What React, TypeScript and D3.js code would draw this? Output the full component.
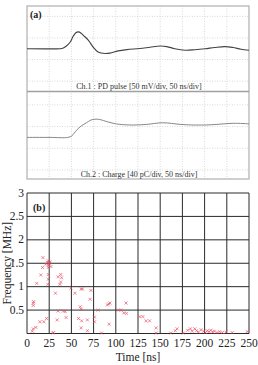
import React from "react";
import * as d3 from "d3";

// ---- Panel (a) waveforms ----
const ch1Time = [0, 52, 79, 88, 97, 104, 110, 115.5, 122, 128, 138, 149, 160, 176, 187, 205, 225, 254, 277, 300, 315, 333, 356, 378, 401, 423, 446, 464, 482, 500];
const ch1Volt = [0, -0.2, 0.5, 5.8, 15, 29, 37, 39, 36, 30, 20, 4, -7.5, -11, -10, -5, -2, 0.5, 3.5, 6.3, 5, 0, -3.5, -2.3, 0, 3, 5, 2.8, -1.2, -3.5];
const ch2Time = [0, 52, 92, 101, 112, 122, 134, 144, 153, 164, 180, 194, 209, 239, 270, 306, 345, 374, 401, 428, 464, 500];
const ch2Charge = [0, 0, 0, 3, 13.6, 21, 27, 32, 33.5, 33, 29, 26, 24, 22.8, 24, 27, 24, 22.8, 22.8, 24, 26, 25];
const timeGridA = [50, 100, 150, 200, 250, 300, 350, 400, 450];
const ch1Grid = [-75, -25, 25, 75];
const ch2Grid = [-60, -20, 20, 60];
const ch1Label = "Ch.1 : PD pulse [50 mV/div, 50 ns/div]";
const ch2Label = "Ch.2 : Charge [40 pC/div, 50 ns/div]";

// ---- Panel (b) scatter ----
const scatterTime = [18, 24, 23, 25, 21, 26, 24, 17.5, 24, 27, 15.5, 24, 35, 38, 39, 11, 24, 23.5, 37, 38, 32, 49.5, 54, 61, 62.5, 72, 71, 7, 7, 7.5, 60, 61, 35, 41, 43, 80, 90.5, 92, 93.5, 111.5, 103, 106, 109, 112, 14.5, 19, 22, 34, 44, 58, 61.5, 61, 68, 76, 76, 68, 84, 29, 30, 92.5, 6, 7, 10, 127, 130.5, 134, 138, 145.5, 145.5, 162, 167, 169, 176, 181, 184, 186, 189, 191, 193, 196, 199, 201, 203, 205, 207, 209, 211, 214, 217, 220, 224, 231, 248];
const scatterFreq = [1.62, 1.55, 1.52, 1.5, 1.48, 1.53, 1.46, 1.41, 1.41, 1.43, 1.25, 1.26, 1.21, 1.26, 1.19, 1.07, 1.16, 1.05, 1.05, 1.1, 0.86, 0.97, 0.86, 0.95, 0.95, 0.92, 0.73, 0.65, 0.6, 0.68, 0.57, 0.52, 0.48, 0.48, 0.47, 0.5, 0.61, 0.63, 0.65, 0.65, 0.5, 0.5, 0.44, 0.43, 0.25, 0.25, 0.32, 0.29, 0.34, 0.32, 0.27, 0.12, 0.29, 0.25, 0.35, 0.06, 0.01, 0.01, 0.02, 0.2, 0.05, 0.1, 0.13, 0.36, 0.36, 0.27, 0.27, 0.12, 0.01, 0.01, 0.06, 0.1, 0.01, 0.07, 0.1, 0.05, 0.1, 0.06, 0.03, 0.08, 0.05, 0.02, 0.06, 0.04, 0.07, 0.03, 0.05, 0.02, 0.04, 0.02, 0.03, 0.02, 0.04];
const xTicks = [0, 25, 50, 75, 100, 125, 150, 175, 200, 225, 250];
const yTicks = [0.5, 1, 1.5, 2, 2.5, 3];

const SERIF = "'Liberation Serif', 'Times New Roman', Times, serif";

export default function App() {
  const W = 258, H = 365;
  const aL = 27, aR = 249, aTop = 6, aMid = 91.5, aBot = 179;

  const xA = d3.scaleLinear().domain([0, 500]).range([aL, aR]);
  // ch1: 0 mV at panel centre, 21.5 px per 50 mV
  const y1 = d3.scaleLinear().domain([-99, 99]).range([aMid, aTop]);
  // ch2: 0 pC at y=137.4, 21.7 px per 40 pC
  const y2 = d3.scaleLinear().domain([0, 40]).range([137.4, 137.4 - 21.7]);

  const line1 = d3.line<number>().x((_, i) => xA(ch1Time[i])).y((v) => y1(v)).curve(d3.curveCatmullRom);
  const line2 = d3.line<number>().x((_, i) => xA(ch2Time[i])).y((v) => y2(v)).curve(d3.curveCatmullRom);

  const bL = 27, bR = 249, bTop = 193, bBot = 333.5;
  const xB = d3.scaleLinear().domain([0, 250]).range([bL, bR]);
  const yB = d3.scaleLinear().domain([0, 3]).range([bBot, bTop]);

  const gridCol = "#cfcfcf";
  const s = 1.5;

  return (
    <div style={{ position: "absolute", left: 0, top: 0 }}>
      <svg width={W} height={H} style={{ display: "block", background: "#fff" }}>
        {/* Panel (a) */}
        <g>
          {timeGridA.map((t) => (
            <line key={"va" + t} x1={xA(t)} x2={xA(t)} y1={aTop} y2={aBot} stroke={gridCol} strokeWidth={0.8} strokeDasharray="1,1.5" />
          ))}
          {ch1Grid.map((v) => (
            <line key={"h1" + v} x1={aL} x2={aR} y1={y1(v)} y2={y1(v)} stroke={gridCol} strokeWidth={0.8} strokeDasharray="1,1.5" />
          ))}
          {ch2Grid.map((v) => (
            <line key={"h2" + v} x1={aL} x2={aR} y1={y2(v)} y2={y2(v)} stroke={gridCol} strokeWidth={0.8} strokeDasharray="1,1.5" />
          ))}
          <rect x={aL} y={aTop} width={aR - aL} height={aBot - aTop} fill="none" stroke="#b0b0b0" strokeWidth={1.2} />
          <line x1={aL} x2={aR} y1={aMid} y2={aMid} stroke="#a0a0a0" strokeWidth={1.5} />
          <path d={line1(ch1Volt) || ""} fill="none" stroke="#444" strokeWidth={1.15} />
          <path d={line2(ch2Charge) || ""} fill="none" stroke="#7a7a7a" strokeWidth={0.9} />
          <text x={30} y={18} fontFamily={SERIF} fontSize={10} fontWeight="bold" fill="#222">(a)</text>
          <text x={(aL + aR) / 2 + 1} y={89} textAnchor="middle" fontFamily={SERIF} fontSize={8} fill="#333">{ch1Label}</text>
          <text x={(aL + aR) / 2 + 1} y={176.5} textAnchor="middle" fontFamily={SERIF} fontSize={8} fill="#333">{ch2Label}</text>
        </g>

        {/* Panel (b) */}
        <g>
          {xTicks.map((t) => (
            <line key={"vb" + t} x1={xB(t)} x2={xB(t)} y1={bTop} y2={bBot} stroke="#2a2a2a" strokeWidth={1} />
          ))}
          {[0, ...yTicks].map((f) => (
            <line key={"hb" + f} x1={bL} x2={bR} y1={yB(f)} y2={yB(f)} stroke="#2a2a2a" strokeWidth={1} />
          ))}
          {scatterTime.map((t, i) => {
            const cx = xB(t), cy = yB(scatterFreq[i]);
            return (
              <path key={"p" + i} d={`M${cx - s},${cy - s}L${cx + s},${cy + s}M${cx - s},${cy + s}L${cx + s},${cy - s}`} stroke="#e8435c" strokeWidth={0.8} strokeOpacity={0.8} fill="none" />
            );
          })}
          {xTicks.map((t) => (
            <text key={"xt" + t} x={xB(t)} y={347} textAnchor="middle" fontFamily={SERIF} fontSize={11.5} fill="#222">{t}</text>
          ))}
          {yTicks.map((f) => (
            <text key={"yt" + f} x={24} y={yB(f) + 3.5} textAnchor="end" fontFamily={SERIF} fontSize={11.5} fill="#222">{f}</text>
          ))}
          <text x={(bL + bR) / 2} y={361} textAnchor="middle" fontFamily={SERIF} fontSize={11.5} fill="#222">Time [ns]</text>
          <text transform={`translate(11,${(bTop + bBot) / 2}) rotate(-90)`} textAnchor="middle" fontFamily={SERIF} fontSize={11.5} fill="#222">Frequency [MHz]</text>
          <text x={33} y={211} fontFamily={SERIF} fontSize={10} fontWeight="bold" fill="#222">(b)</text>
        </g>
      </svg>
    </div>
  );
}
